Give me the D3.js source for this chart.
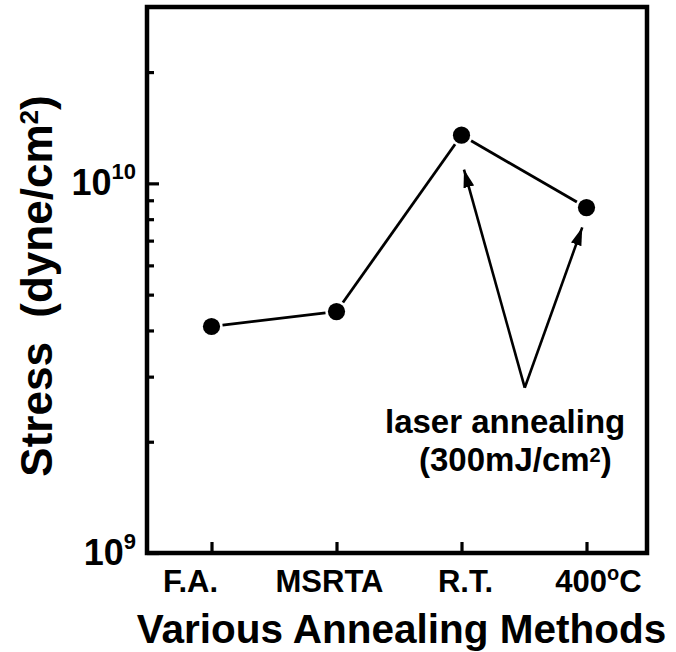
<!DOCTYPE html>
<html>
<head>
<meta charset="utf-8">
<script src="https://cdn.jsdelivr.net/npm/d3@7"></script>
<style>
  body { margin: 0; background: #fff; }
  text { font-family: "Liberation Sans", Arial, Helvetica, sans-serif; font-weight: bold; fill: #000; }
</style>
</head>
<body>
<div id="chart"></div>
<script>
// data
var categories = ["F.A.", "MSRTA", "R.T.", "400°C"];
var stress = [4.1e9, 4.5e9, 1.35e10, 8.6e9];
var yMajorTicks = [1e9, 1e10];
var yMajorLabels = [["10", "9"], ["10", "10"]];
var yMinorTicks = [2e9, 3e9, 4e9, 5e9, 6e9, 7e9, 8e9, 9e9, 2e10];
// laser annealing arrows: tail (index, value) and heads
var arrowTail = [2.506, 2.8e9];
var arrowHeads = [[2.02, 1.09e10], [2.966, 7.6e9]];

var W = 676, H = 652;
var margin = { left: 147, top: 7, right: 29, bottom: 99 };
var width = W - margin.left - margin.right;
var height = H - margin.top - margin.bottom;

var svg = d3.select("#chart").append("svg")
    .attr("width", W)
    .attr("height", H);

var g = svg.append("g")
    .attr("transform", "translate(" + margin.left + "," + margin.top + ")");

// scales
var x = d3.scaleLinear()
    .domain([-0.5, categories.length - 0.5])
    .range([2, width + 2]);

var y = d3.scaleLog()
    .domain([1e9, 3e10])
    .range([height, 0]);

// ticks (inward)
g.append("g")
    .attr("class", "minor")
    .call(d3.axisRight(y).tickValues(yMinorTicks).tickSize(7).tickFormat(""));

g.append("g")
    .attr("class", "major")
    .call(d3.axisRight(y).tickValues(yMajorTicks).tickSize(12).tickFormat(""));

g.append("g")
    .attr("class", "xticks")
    .attr("transform", "translate(0," + height + ")")
    .call(d3.axisTop(x).tickValues(d3.range(categories.length)).tickSize(11).tickFormat(""));

g.selectAll(".domain").remove();
g.selectAll(".tick line").attr("stroke", "#000").attr("stroke-width", 3.2);

// frame
g.append("rect")
    .attr("x", 0)
    .attr("y", 0)
    .attr("width", width)
    .attr("height", height)
    .attr("fill", "none")
    .attr("stroke", "#000")
    .attr("stroke-width", 4.5);

// y tick labels 10^n
var yl = g.selectAll(".ylab")
    .data(yMajorTicks)
    .enter()
    .append("text")
    .attr("class", "ylab")
    .attr("x", -11)
    .attr("y", function(d) { return y(d) + 12; })
    .attr("text-anchor", "end")
    .style("font-size", "36px");
yl.append("tspan").text(function(d, i) { return yMajorLabels[i][0]; });
yl.append("tspan")
    .attr("dy", -16)
    .style("font-size", "22px")
    .text(function(d, i) { return yMajorLabels[i][1]; });

// x tick labels
var labelShift = [-21, -7, 4, 12];
var xl = g.selectAll(".xlab")
    .data(categories)
    .enter()
    .append("text")
    .attr("class", "xlab")
    .attr("x", function(d, i) { return x(i) + labelShift[i]; })
    .attr("y", height + 39)
    .attr("text-anchor", "middle")
    .style("font-size", "31px");
xl.each(function(d) {
    var t = d3.select(this);
    var parts = d.split("°");
    t.append("tspan").text(parts[0]);
    if (parts.length > 1) {
        t.append("tspan").attr("dy", -12).style("font-size", "20px").text("o");
        t.append("tspan").attr("dy", 12).text(parts[1]);
    }
});

// axis titles
svg.append("text")
    .attr("x", 401.5)
    .attr("y", H - 9)
    .attr("text-anchor", "middle")
    .style("font-size", "40.5px")
    .text("Various Annealing Methods");

var yt = svg.append("text")
    .attr("transform", "translate(52," + (margin.top + 279) + ") rotate(-90)")
    .attr("text-anchor", "middle")
    .style("white-space", "pre")
    .style("font-size", "44px");
yt.append("tspan").text("Stress  (dyne/cm");
yt.append("tspan").attr("dy", -14).style("font-size", "26px").text("2");
yt.append("tspan").attr("dy", 14).text(")");

// data line with small gaps at the markers
var r = 8.6;
var pts = stress.map(function(v, i) { return [x(i), y(v)]; });
for (var i = 0; i < pts.length - 1; i++) {
    var a = pts[i], b = pts[i + 1];
    var dx = b[0] - a[0], dy = b[1] - a[1];
    var len = Math.sqrt(dx * dx + dy * dy);
    var off = r + 2.5;
    g.append("line")
        .attr("x1", a[0] + dx / len * off)
        .attr("y1", a[1] + dy / len * off)
        .attr("x2", b[0] - dx / len * off)
        .attr("y2", b[1] - dy / len * off)
        .attr("stroke", "#000")
        .attr("stroke-width", 2.8);
}

g.selectAll(".dot")
    .data(stress)
    .enter()
    .append("circle")
    .attr("class", "dot")
    .attr("cx", function(d, i) { return x(i); })
    .attr("cy", function(d) { return y(d); })
    .attr("r", r)
    .attr("fill", "#000");

// annotation arrows
svg.append("defs").append("marker")
    .attr("id", "head")
    .attr("viewBox", "0 0 18 11")
    .attr("refX", 18)
    .attr("refY", 5.5)
    .attr("markerWidth", 18)
    .attr("markerHeight", 11)
    .attr("markerUnits", "userSpaceOnUse")
    .attr("orient", "auto")
    .append("path")
    .attr("d", "M0,0 L18,5.5 L0,11 Z")
    .attr("fill", "#000");

arrowHeads.forEach(function(h) {
    g.append("line")
        .attr("x1", x(arrowTail[0]))
        .attr("y1", y(arrowTail[1]))
        .attr("x2", x(h[0]))
        .attr("y2", y(h[1]))
        .attr("stroke", "#000")
        .attr("stroke-width", 2.6)
        .attr("marker-end", "url(#head)");
});

// annotation text
svg.append("text")
    .attr("x", 385)
    .attr("y", 433)
    .style("font-size", "33px")
    .text("laser annealing");

var at = svg.append("text")
    .attr("x", 419)
    .attr("y", 471)
    .style("font-size", "33px");
at.append("tspan").text("(300mJ/cm");
at.append("tspan").attr("dy", -9).style("font-size", "20px").text("2");
at.append("tspan").attr("dy", 9).text(")");
</script>
</body>
</html>
